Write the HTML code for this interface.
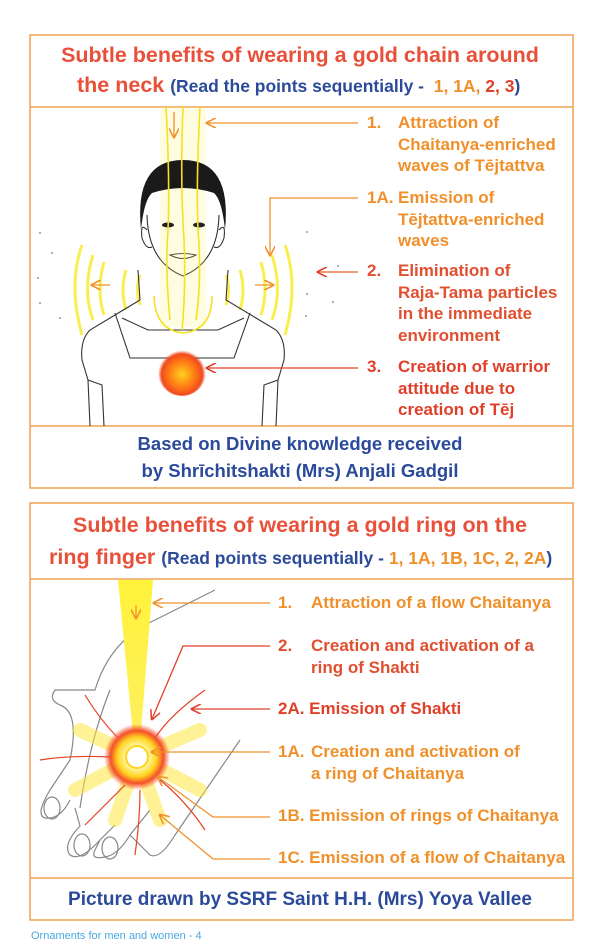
<!DOCTYPE html>
<html><head><meta charset="utf-8"><style>
html,body{margin:0;padding:0;background:#fff;}
body{width:600px;height:948px;position:relative;overflow:hidden;font-family:"Liberation Sans",sans-serif;}
.t{position:absolute;white-space:nowrap;font-weight:bold;}
.l{font-size:17px;line-height:21.5px;}
</style></head><body>
<svg width="600" height="948" style="position:absolute;left:0;top:0" xmlns="http://www.w3.org/2000/svg">
<defs>
<radialGradient id="orb" cx="50%" cy="55%" r="50%"><stop offset="0" stop-color="#ffd21e"/><stop offset="0.55" stop-color="#ff7a14"/><stop offset="0.85" stop-color="#f04a20"/><stop offset="1" stop-color="#f04a20" stop-opacity="0"/></radialGradient>
<radialGradient id="burst" cx="50%" cy="50%" r="50%"><stop offset="0" stop-color="#fff"/><stop offset="0.35" stop-color="#fff7a0"/><stop offset="0.6" stop-color="#ffd21e"/><stop offset="0.8" stop-color="#f4502a"/><stop offset="1" stop-color="#f4502a" stop-opacity="0"/></radialGradient>
<linearGradient id="beam" x1="0" y1="0" x2="0" y2="1"><stop offset="0" stop-color="#fff23a"/><stop offset="1" stop-color="#fff060"/></linearGradient>
<marker id="ae" markerWidth="8" markerHeight="8" refX="7" refY="4" orient="auto"><path d="M0,0 L8,4 L0,8" fill="none" stroke="#f0902a" stroke-width="1.2"/></marker>
<marker id="aer" markerWidth="8" markerHeight="8" refX="7" refY="4" orient="auto"><path d="M0,0 L8,4 L0,8" fill="none" stroke="#e0402a" stroke-width="1.2"/></marker>
</defs>
<g fill="none" stroke="#f0a050" stroke-width="1.5">
<rect x="30" y="35" width="543" height="453"/>
<line x1="30" y1="107" x2="573" y2="107"/><line x1="30" y1="426" x2="573" y2="426"/>
<rect x="30" y="503" width="543" height="417"/>
<line x1="30" y1="579" x2="573" y2="579"/><line x1="30" y1="878" x2="573" y2="878"/>
</g>
<g fill="none" stroke="#f8ec30" stroke-width="3" opacity="0.85">
<path d="M82,245 Q68,285 82,335"/><path d="M93,255 Q82,290 93,320"/><path d="M104,262 Q96,290 104,315"/><path d="M126,270 Q120,290 126,310"/><path d="M140,275 Q135,290 140,305"/>
<path d="M285,245 Q299,285 285,335"/><path d="M272,255 Q283,290 272,320"/><path d="M261,262 Q269,290 261,315"/><path d="M240,270 Q246,290 240,310"/><path d="M226,275 Q231,290 226,305"/>
</g>
<g fill="none" stroke="#333" stroke-width="1.1">
<path d="M138,270 L140,300 L90,330 Q80,340 82,360 L88,380 L90,426"/>
<path d="M228,270 L226,300 L276,330 Q286,340 284,360 L278,380 L276,426"/>
<path d="M115,313 L130,358 L234,358 L250,313"/>
<path d="M122,318 L148,330 L218,330 L244,318"/>
<path d="M88,380 L102,385 L104,426"/><path d="M278,380 L264,385 L262,426"/>
<path d="M147,215 Q148,262 183,276 Q218,262 219,215"/>
<path d="M147,230 Q140,222 142,238 Q146,250 152,247"/><path d="M219,230 Q226,222 224,238 Q220,250 214,247"/>
<path d="M170,255 Q183,252 196,255 Q183,262 170,255Z"/>
</g>
<rect x="160" y="107" width="46" height="220" fill="#fff36a" opacity="0.2"/>
<path d="M141,230 Q134,160 183,160 Q232,160 225,230 Q222,200 214,193 Q183,183 152,193 Q144,200 141,230Z" fill="#1a1a1a"/>
<ellipse cx="168" cy="225" rx="6" ry="2.5" fill="#222"/><ellipse cx="199" cy="225" rx="6" ry="2.5" fill="#222"/>
<g fill="none" stroke="#f6e020" stroke-width="1.6">
<path d="M166,107 Q170,180 168,230 Q165,270 170,320"/><path d="M183,107 Q180,180 184,240 Q186,290 182,330"/><path d="M200,107 Q196,180 198,230 Q202,280 196,320"/>
<path d="M154,296 Q155,330 183,333 Q212,330 212,296"/>
</g>
<circle cx="182" cy="372" r="24" fill="url(#orb)"/>
<g stroke-width="1.3" fill="none">
<line x1="358" y1="123" x2="207" y2="123" stroke="#f0902a" marker-end="url(#ae)"/>
<line x1="174" y1="112" x2="174" y2="137" stroke="#f0902a" marker-end="url(#ae)"/>
<path d="M358,198 L270,198 L270,255" stroke="#f0902a" marker-end="url(#ae)"/>
<line x1="358" y1="272" x2="318" y2="272" stroke="#e0602a" marker-end="url(#aer)"/>
<line x1="110" y1="285" x2="92" y2="285" stroke="#f0902a" marker-end="url(#ae)"/>
<line x1="255" y1="285" x2="273" y2="285" stroke="#f0902a" marker-end="url(#ae)"/>
<line x1="358" y1="368" x2="207" y2="368" stroke="#e0402a" marker-end="url(#aer)"/>
</g>
<g fill="#999"><circle cx="40" cy="233" r="1"/><circle cx="52" cy="253" r="1"/><circle cx="38" cy="278" r="1"/><circle cx="40" cy="303" r="1"/><circle cx="60" cy="318" r="1"/><circle cx="307" cy="232" r="1"/><circle cx="338" cy="266" r="1"/><circle cx="307" cy="294" r="1"/><circle cx="333" cy="302" r="1"/><circle cx="306" cy="316" r="1"/></g>
<g fill="none" stroke="#888" stroke-width="1.2">
<path d="M215,590 L155,620 Q110,640 95,690 L55,690 Q48,700 60,705 Q80,712 70,760 L50,790 Q35,815 45,818 Q60,820 70,800"/>
<path d="M75,808 L80,826 Q62,845 70,855 Q80,862 100,840 L115,825"/>
<path d="M100,840 L95,850 Q90,860 105,857 Q118,855 130,835 L150,810"/>
<path d="M130,835 L150,855 Q160,860 175,835 L240,740"/>
<path d="M110,690 Q90,740 80,808"/>
<ellipse cx="52" cy="808" rx="8" ry="11"/><ellipse cx="82" cy="845" rx="8" ry="11"/><ellipse cx="110" cy="848" rx="8" ry="11"/>
</g>
<path d="M118,580 L153,580 L140,745 L134,745Z" fill="url(#beam)"/>
<g stroke="#ffe640" stroke-width="14" opacity="0.55" stroke-linecap="round">
<line x1="137" y1="757" x2="200" y2="730"/><line x1="137" y1="757" x2="80" y2="730"/><line x1="137" y1="757" x2="75" y2="790"/><line x1="137" y1="757" x2="200" y2="790"/><line x1="137" y1="757" x2="115" y2="820"/><line x1="137" y1="757" x2="160" y2="820"/>
</g>
<g fill="none" stroke="#e84020" stroke-width="1.2">
<path d="M120,740 Q100,720 85,695"/><path d="M155,738 Q170,715 205,690"/><path d="M110,757 Q70,755 40,760"/><path d="M125,785 Q100,810 85,825"/><path d="M140,790 Q140,820 135,855"/><path d="M160,780 Q185,800 205,830"/>
</g>
<circle cx="137" cy="757" r="33" fill="url(#burst)"/>
<circle cx="137" cy="757" r="11" fill="#fff" stroke="#ffd21e" stroke-width="2"/>
<g stroke-width="1.3" fill="none">
<line x1="270" y1="603" x2="154" y2="603" stroke="#f0902a" marker-end="url(#ae)"/>
<line x1="136" y1="605" x2="136" y2="618" stroke="#f0902a" marker-end="url(#ae)"/>
<path d="M270,646 L183,646 L152,719" stroke="#e0402a" marker-end="url(#aer)"/>
<line x1="270" y1="709" x2="192" y2="709" stroke="#e0402a" marker-end="url(#aer)"/>
<line x1="270" y1="752" x2="152" y2="752" stroke="#f0902a" marker-end="url(#ae)"/>
<path d="M270,817 L213,817 L158,777" stroke="#f0902a" marker-end="url(#ae)"/>
<path d="M270,859 L213,859 L160,815" stroke="#f0902a" marker-end="url(#ae)"/>
</g>
</svg>
<div class="t" style="left:0;width:600px;text-align:center;top:42px;font-size:21.5px;color:#e8503a;line-height:26px">Subtle benefits of wearing a gold chain around</div>
<div class="t" style="left:77px;top:72px;font-size:21.5px;color:#e8503a;line-height:26px">the neck <span style="font-size:17.5px;color:#2b4a9a">(Read the points sequentially - &nbsp;<span style="color:#f0902a">1, 1A,</span> <span style="color:#e0402a">2, 3</span>)</span></div>
<div class="t l" style="left:367px;top:112px;color:#f0902a">1.</div>
<div class="t l" style="left:398px;top:112px;color:#f0902a">Attraction of<br>Chaitanya-enriched<br>waves of Tējtattva</div>
<div class="t l" style="left:367px;top:187px;color:#f0902a">1A.</div>
<div class="t l" style="left:398px;top:187px;color:#f0902a">Emission of<br>Tējtattva-enriched<br>waves</div>
<div class="t l" style="left:367px;top:260px;color:#e05030">2.</div>
<div class="t l" style="left:398px;top:260px;color:#e05030">Elimination of<br>Raja-Tama particles<br>in the immediate<br>environment</div>
<div class="t l" style="left:367px;top:356px;color:#e0402a">3.</div>
<div class="t l" style="left:398px;top:356px;color:#e0402a">Creation of warrior<br>attitude due to<br>creation of Tēj</div>
<div class="t" style="left:0;width:600px;text-align:center;top:430px;font-size:18.5px;line-height:27px;color:#2b4a9a">Based on Divine knowledge received<br>by Shrīchitshakti (Mrs) Anjali Gadgil</div>
<div class="t" style="left:0;width:600px;text-align:center;top:512px;font-size:21.5px;color:#e8503a;line-height:26px">Subtle benefits of wearing a gold ring on the</div>
<div class="t" style="left:49px;top:544px;font-size:21.5px;color:#e8503a;line-height:26px">ring finger <span style="font-size:17.5px;color:#2b4a9a">(Read points sequentially - <span style="color:#f0902a">1, 1A, 1B, 1C, 2, 2A</span>)</span></div>
<div class="t l" style="left:278px;top:592px;color:#f0902a">1.</div>
<div class="t l" style="left:311px;top:592px;color:#f0902a">Attraction of a flow Chaitanya</div>
<div class="t l" style="left:278px;top:635px;color:#e05030">2.</div>
<div class="t l" style="left:311px;top:635px;color:#e05030">Creation and activation of a<br>ring of Shakti</div>
<div class="t l" style="left:278px;top:698px;color:#e0402a">2A. Emission of Shakti</div>
<div class="t l" style="left:278px;top:741px;color:#f0902a">1A.</div>
<div class="t l" style="left:311px;top:741px;color:#f0902a">Creation and activation of<br>a ring of Chaitanya</div>
<div class="t l" style="left:278px;top:805px;color:#f0902a">1B. Emission of rings of Chaitanya</div>
<div class="t l" style="left:278px;top:847px;color:#f0902a">1C. Emission of a flow of Chaitanya</div>
<div class="t" style="left:0;width:600px;text-align:center;top:887px;font-size:19px;line-height:26px;color:#2b4a9a">Picture drawn by SSRF Saint H.H. (Mrs) Yoya Vallee</div>
<div class="t" style="left:31px;top:930px;font-size:11px;font-weight:normal;color:#4aa8e0">Ornaments for men and women - 4</div>
</body></html>
